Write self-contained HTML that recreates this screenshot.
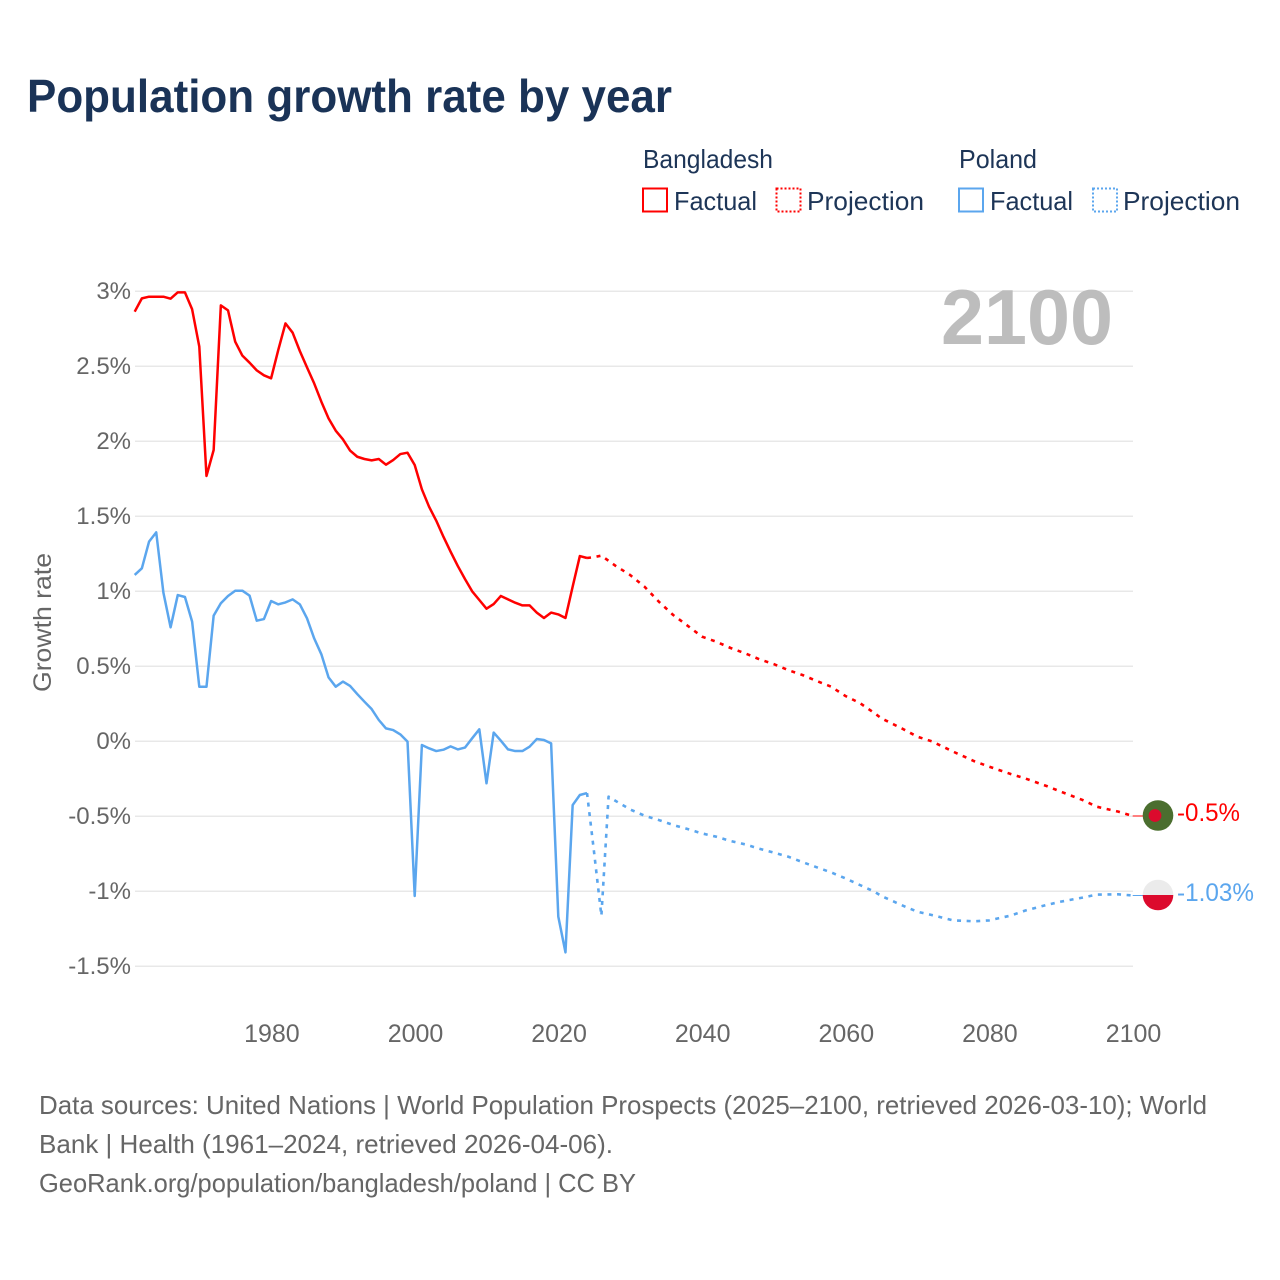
<!DOCTYPE html>
<html lang="en">
<head>
<meta charset="utf-8">
<title>Population growth rate by year</title>
<style>
html,body{margin:0;padding:0;background:#fff;}
svg{display:block;}
text{font-family:"Liberation Sans",sans-serif;}
</style>
</head>
<body>
<svg id="chart" xmlns="http://www.w3.org/2000/svg" width="1280" height="1280" viewBox="0 0 1280 1280">
  <rect x="0" y="0" width="1280" height="1280" fill="#ffffff"/>
  <text x="27" y="112" font-size="46" font-weight="700" fill="#1a3357" textLength="645" lengthAdjust="spacingAndGlyphs">Population growth rate by year</text>

  <g font-size="26" fill="#1d3557">
    <text x="643" y="168" textLength="130" lengthAdjust="spacingAndGlyphs">Bangladesh</text>
    <text x="959" y="168" textLength="78" lengthAdjust="spacingAndGlyphs">Poland</text>
    <g>
      <rect x="643" y="188.5" width="24" height="23" fill="none" stroke="#ff0000" stroke-width="2"/>
      <text x="674" y="210" textLength="83" lengthAdjust="spacingAndGlyphs">Factual</text>
    </g>
    <g>
      <rect x="776.5" y="188.5" width="24" height="23" fill="none" stroke="#ff0000" stroke-width="2" stroke-dasharray="2 2"/>
      <text x="807" y="210" textLength="117" lengthAdjust="spacingAndGlyphs">Projection</text>
    </g>
    <g>
      <rect x="959" y="188.5" width="24" height="23" fill="none" stroke="#5ba6ee" stroke-width="2"/>
      <text x="990" y="210" textLength="83" lengthAdjust="spacingAndGlyphs">Factual</text>
    </g>
    <g>
      <rect x="1093" y="188.5" width="24" height="23" fill="none" stroke="#5ba6ee" stroke-width="2" stroke-dasharray="2 2"/>
      <text x="1123" y="210" textLength="117" lengthAdjust="spacingAndGlyphs">Projection</text>
    </g>
  </g>

  <g id="grid"></g>
  <g id="y-ticks"></g>
  <g id="x-ticks"></g>
  <text transform="translate(51 692) rotate(-90)" font-size="25" fill="#666666" textLength="139" lengthAdjust="spacingAndGlyphs">Growth rate</text>
  <text x="941" y="344" font-size="78" font-weight="700" fill="#bdbdbd" textLength="172" lengthAdjust="spacingAndGlyphs">2100</text>
  <g id="series"></g>

  <g>
    <circle cx="1158" cy="815.5" r="15.3" fill="#4b6e2f"/>
    <circle cx="1155" cy="815.5" r="6.4" fill="#dc0a2d"/>
  </g>
  <g>
    <path d="M1142.7 895a15.3 15.3 0 0 1 30.6 0z" fill="#ebebeb"/>
    <path d="M1142.7 895a15.3 15.3 0 0 0 30.6 0z" fill="#dc0a2d"/>
  </g>
  <text x="1177" y="821" font-size="25" fill="#ff0000" textLength="63" lengthAdjust="spacingAndGlyphs">-0.5%</text>
  <text x="1177" y="901" font-size="25" fill="#5ba6ee" textLength="77" lengthAdjust="spacingAndGlyphs">-1.03%</text>

  <g font-size="26" fill="#666666">
    <text x="39" y="1114" textLength="1168" lengthAdjust="spacingAndGlyphs">Data sources: United Nations | World Population Prospects (2025–2100, retrieved 2026-03-10); World</text>
    <text x="39" y="1153" textLength="574" lengthAdjust="spacingAndGlyphs">Bank | Health (1961–2024, retrieved 2026-04-06).</text>
    <text x="39" y="1192" textLength="597" lengthAdjust="spacingAndGlyphs">GeoRank.org/population/bangladesh/poland | CC BY</text>
  </g>
</svg>
<script>
const yTickValues = [3, 2.5, 2, 1.5, 1, 0.5, 0, -0.5, -1, -1.5];
const yTickLabels = ["3%", "2.5%", "2%", "1.5%", "1%", "0.5%", "0%", "-0.5%", "-1%", "-1.5%"];
const xTickYears = [1980, 2000, 2020, 2040, 2060, 2080, 2100];

const factualYears = [1961,1962,1963,1964,1965,1966,1967,1968,1969,1970,1971,1972,1973,1974,1975,1976,1977,1978,1979,1980,1981,1982,1983,1984,1985,1986,1987,1988,1989,1990,1991,1992,1993,1994,1995,1996,1997,1998,1999,2000,2001,2002,2003,2004,2005,2006,2007,2008,2009,2010,2011,2012,2013,2014,2015,2016,2017,2018,2019,2020,2021,2022,2023,2024];
const bangladeshFactual = [2.862,2.951,2.962,2.962,2.962,2.949,2.991,2.991,2.878,2.629,1.767,1.94,2.904,2.871,2.662,2.569,2.522,2.471,2.438,2.418,2.607,2.784,2.722,2.6,2.491,2.384,2.262,2.151,2.069,2.011,1.936,1.895,1.88,1.871,1.88,1.842,1.873,1.913,1.922,1.84,1.678,1.562,1.469,1.362,1.262,1.167,1.08,0.998,0.94,0.882,0.913,0.967,0.944,0.922,0.904,0.904,0.856,0.82,0.856,0.844,0.82,1.029,1.233,1.22];
const polandFactual = [1.107,1.151,1.329,1.391,0.989,0.758,0.973,0.96,0.796,0.362,0.362,0.836,0.918,0.967,1.002,1.002,0.969,0.802,0.813,0.933,0.911,0.924,0.944,0.911,0.818,0.684,0.578,0.424,0.362,0.396,0.367,0.313,0.262,0.213,0.14,0.084,0.073,0.044,-0.004,-1.033,-0.027,-0.049,-0.067,-0.058,-0.036,-0.056,-0.044,0.018,0.078,-0.282,0.056,0.002,-0.056,-0.067,-0.067,-0.038,0.013,0.007,-0.016,-1.171,-1.409,-0.427,-0.36,-0.347];

const bangladeshProjectionYears = [2024,2025,2026,2028,2030,2032,2034,2036,2038,2040,2042,2044,2046,2048,2050,2052,2054,2056,2058,2060,2062,2064,2065,2068,2070,2072,2075,2078,2080,2083,2085,2088,2090,2093,2095,2098,2100];
const bangladeshProjection = [1.22,1.226,1.236,1.167,1.107,1.029,0.929,0.84,0.769,0.696,0.662,0.62,0.585,0.545,0.513,0.473,0.44,0.4,0.362,0.3,0.253,0.187,0.151,0.08,0.029,-0.002,-0.071,-0.136,-0.171,-0.22,-0.249,-0.3,-0.338,-0.393,-0.438,-0.471,-0.5];

const polandProjectionYears = [2024,2025,2026,2027,2028,2030,2032,2034,2036,2038,2040,2042,2044,2046,2048,2050,2052,2054,2056,2058,2060,2062,2064,2065,2068,2070,2072,2075,2078,2080,2083,2085,2088,2090,2093,2095,2098,2100];
const polandProjection = [-0.347,-0.749,-1.165,-0.371,-0.4,-0.456,-0.498,-0.527,-0.56,-0.587,-0.616,-0.638,-0.667,-0.689,-0.718,-0.744,-0.771,-0.807,-0.842,-0.876,-0.916,-0.96,-1.004,-1.033,-1.098,-1.138,-1.16,-1.196,-1.202,-1.196,-1.164,-1.131,-1.093,-1.071,-1.044,-1.024,-1.022,-1.03];

const NS = 'http://www.w3.org/2000/svg';
function xScale(year) { return 414.7 + (year - 2000) * 7.18; }
function yScale(value) { return 741 - value * 150; }

const grid = document.getElementById('grid');
const yTicks = document.getElementById('y-ticks');
const xTicks = document.getElementById('x-ticks');
const seriesGroup = document.getElementById('series');

yTickValues.forEach(function (v, i) {
  const line = document.createElementNS(NS, 'line');
  
  
  line.setAttribute('x1', 135);
  line.setAttribute('x2', 1133);
  line.setAttribute('y1', yScale(v) + 0.3);
  line.setAttribute('y2', yScale(v) + 0.3);
  line.setAttribute('stroke', '#e8e8e8');
  line.setAttribute('stroke-width', '1.5');
  grid.appendChild(line);

  const label = document.createElementNS(NS, 'text');
  
  
  label.setAttribute('x', 131);
  label.setAttribute('y', yScale(v) + 8);
  label.setAttribute('text-anchor', 'end');
  label.setAttribute('font-size', '24');
  label.setAttribute('fill', '#666666');
  label.textContent = yTickLabels[i];
  yTicks.appendChild(label);
});

xTickYears.forEach(function (year) {
  const label = document.createElementNS(NS, 'text');
  
  
  label.setAttribute('x', xScale(year) + 0.8);
  label.setAttribute('y', 1042);
  label.setAttribute('text-anchor', 'middle');
  label.setAttribute('font-size', '25');
  label.setAttribute('fill', '#666666');
  label.textContent = String(year);
  xTicks.appendChild(label);
});

function linePath(years, values) {
  return years.map(function (y, i) {
    return (i ? 'L' : 'M') + xScale(y).toFixed(2) + ' ' + yScale(values[i]).toFixed(2);
  }).join(' ');
}

function drawLine(name, years, values, color, dashed) {
  const path = document.createElementNS(NS, 'path');
  
  
  path.setAttribute('d', linePath(years, values));
  path.setAttribute('fill', 'none');
  path.setAttribute('stroke', color);
  path.setAttribute('stroke-width', dashed ? '2.6' : '2.5');
  path.setAttribute('stroke-linejoin', 'round');
  if (dashed) path.setAttribute('stroke-dasharray', '4 5.6');
  seriesGroup.appendChild(path);
}

drawLine('bangladesh-factual-line', factualYears, bangladeshFactual, '#ff0000', false);
drawLine('bangladesh-projection-line', bangladeshProjectionYears, bangladeshProjection, '#ff0000', true);
drawLine('poland-factual-line', factualYears, polandFactual, '#5ba6ee', false);
drawLine('poland-projection-line', polandProjectionYears, polandProjection, '#5ba6ee', true);

function drawConnector(name, value, color) {
  const line = document.createElementNS(NS, 'line');
  
  
  line.setAttribute('x1', xScale(2100));
  line.setAttribute('x2', 1143);
  line.setAttribute('y1', yScale(value));
  line.setAttribute('y2', yScale(value));
  line.setAttribute('stroke', color);
  line.setAttribute('stroke-width', '1');
  seriesGroup.appendChild(line);
}
drawConnector('bangladesh-end-connector', bangladeshProjection[bangladeshProjection.length - 1], '#ff0000');
drawConnector('poland-end-connector', polandProjection[polandProjection.length - 1], '#5ba6ee');
</script>
</body>
</html>
